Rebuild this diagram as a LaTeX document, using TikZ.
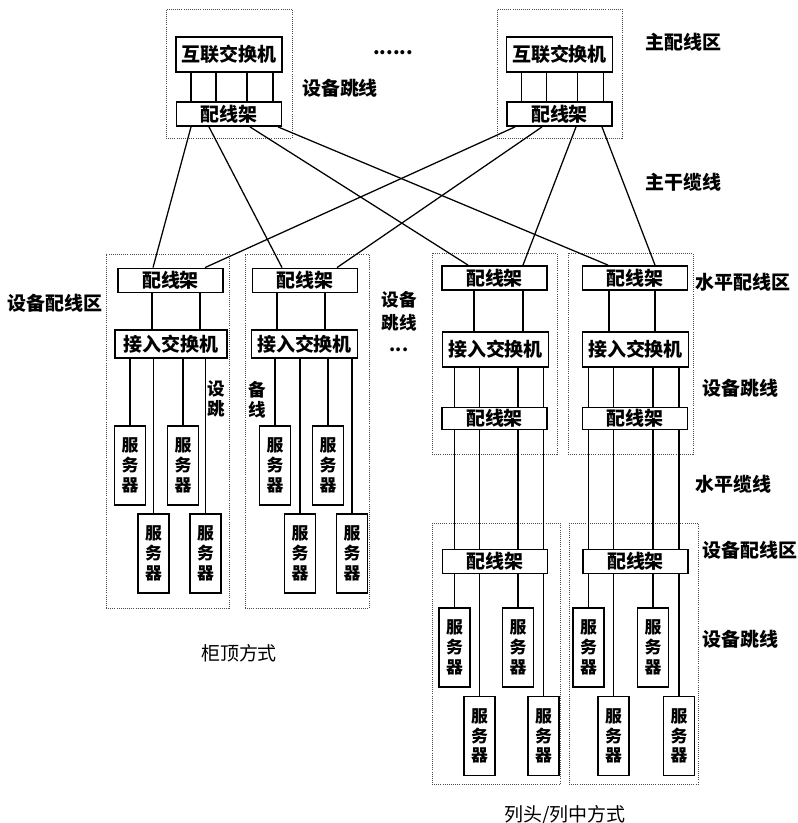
\documentclass[tikz,border=0pt]{standalone}
\usepackage{fontspec}
\usepackage{tikz}
\usetikzlibrary{calc}
\newfontfamily\cjk{Noto Sans CJK SC}

\begin{document}
\begin{tikzpicture}[x=0.025cm, y=-0.025cm,
  zone/.style={rectangle, draw=black!70, densely dotted, line width=0.5pt, inner sep=0pt},
  core/.style={rectangle, draw, line width=1.3pt, fill=white, inner sep=0pt,
               minimum width=2.65cm, minimum height=0.875cm,
               font=\cjk\bfseries\fontsize{13.5}{15}\selectfont},
  pp/.style={core, minimum width=2.625cm, minimum height=0.6cm},
  acc/.style={core, minimum width=2.65cm, minimum height=0.7cm},
  srv/.style={core, minimum width=0.775cm, minimum height=1.975cm, align=center,
              font=\cjk\bfseries\fontsize{12}{14}\selectfont},
  wire/.style={line width=0.9pt},
  lbl/.style={inner sep=0pt, font=\cjk\bfseries\fontsize{13.5}{15}\selectfont},
  captext/.style={inner sep=0pt, font=\cjk\fontsize{13.5}{15}\selectfont}
]
\useasboundingbox (0,0) rectangle (797,823);

%% Main distribution areas
\node[zone, minimum width=3.15cm, minimum height=3.225cm] at (229,73.5)   (mdaL) {};
\node[zone, minimum width=3.125cm, minimum height=3.225cm] at (559.5,73.5) (mdaR) {};
\node[core] at (229,54.5)   (coreL) {互联交换机};
\node[core] at (559.5,54.5) (coreR) {互联交换机};
\node[pp]   at (229,114)    (mppL)  {配线架};
\node[pp]   at (559.5,114)  (mppR)  {配线架};
\foreach \s in {L,R}
  \foreach \dx in {-38,-13,18,44}
    \draw[wire] ($(core\s.south)+(\dx,0)$) -- ($(mpp\s.north)+(\dx,0)$);

%% Cabinet-top zones
\node[zone, minimum width=3.075cm, minimum height=8.85cm] at (167.5,431) (zA) {};
\node[zone, minimum width=3.1cm, minimum height=8.85cm]   at (307,431)   (zB) {};
\node[pp]  at (170.5,280.5) (ppA) {配线架};
\node[pp]  at (305,280.5)   (ppB) {配线架};
\node[acc, minimum width=2.8cm] at (171,344) (swA) {接入交换机};
\node[acc] at (304.5,344)   (swB) {接入交换机};

%% Row-end zones
\node[zone, minimum width=3.125cm, minimum height=5.025cm] at (494.5,353.5) (zC) {};
\node[zone, minimum width=3.125cm, minimum height=5.025cm] at (630.5,353.5) (zD) {};
\node[pp]  at (494.5,278)   (ppC) {配线架};
\node[pp]  at (635,278)     (ppD) {配线架};
\node[acc, minimum height=0.875cm] at (495.5,349.5) (swC) {接入交换机};
\node[acc, minimum height=0.875cm] at (635.5,349.5) (swD) {接入交换机};
\node[pp, minimum height=0.55cm] at (494.5,418.5) (lpC) {配线架};
\node[pp, minimum height=0.55cm] at (635,418.5)   (lpD) {配线架};

\node[zone, minimum width=3.2cm, minimum height=6.525cm]   at (496,653.5)   (zE) {};
\node[zone, minimum width=3.225cm, minimum height=6.525cm] at (633.5,653.5) (zF) {};
\node[pp]  at (495,561.5)   (ppE) {配线架};
\node[pp]  at (635.5,561.5) (ppF) {配线架};

%% Servers
\foreach \n/\x/\y in {A1/130/465.5, A2/153.5/553.5, A3/183/465.5, A4/205.5/553.5,
                      B1/275/465.5, B2/300/553.5, B3/328/465.5, B4/352/553.5,
                      E1/454.5/647.5, E2/479.5/736, E3/518/647.5, E4/543.5/736,
                      F1/588.5/647.5, F2/613.5/736, F3/653/647.5, F4/679/736}
  \node[srv] at (\x,\y) (srv\n) {服\\务\\器};

%% Patch cords
\foreach \c/\xa/\xb in {A/152/200, B/277/325, C/474/523, D/609/655}
  \draw[wire] (pp\c.south -| \xa,0) -- (sw\c.north -| \xa,0)
              (pp\c.south -| \xb,0) -- (sw\c.north -| \xb,0);
\foreach \c in {A,B}
  \foreach \i in {1,...,4}
    \draw[wire] (srv\c\i.north) -- (srv\c\i.north |- sw\c.south);
\foreach \c/\r in {E/C, F/D}
  \foreach \i in {1,...,4}
    \draw[wire] (srv\c\i.north) -- (srv\c\i.north |- pp\c.south)
                (srv\c\i.north |- pp\c.north) -- (srv\c\i.north |- lp\r.south)
                (srv\c\i.north |- lp\r.north) -- (srv\c\i.north |- sw\r.south);

%% Backbone cables
\foreach \a/\b/\t in {-38/A/-17.5, -20/B/-23, 21/C/-26.5, 49/D/-27}
  \draw[wire] ($(mppL.south)+(\a,0)$) -- ($(pp\b.north)+(\t,0)$);
\foreach \a/\b/\t in {-44.5/A/34.5, -17.5/B/32, 16.5/C/28.5, 42.5/D/20}
  \draw[wire] ($(mppR.south)+(\a,0)$) -- ($(pp\b.north)+(\t,0)$);

%% Labels
\node[lbl] at (393,53) (dotsT) {......};
\node[lbl] at (340,88) (jmpT)  {设备跳线};
\node[lbl, anchor=west] at (645,42)  (mda)   {主配线区};
\node[lbl, anchor=west] at (645,182) (trunk) {主干缆线};
\node[lbl] at (55,303) (edaL) {设备配线区};
\node[lbl, align=center, font=\cjk\bfseries\fontsize{12.5}{14}\selectfont] at (216,399) (jmpA) {设\\跳};
\node[lbl, align=center, font=\cjk\bfseries\fontsize{12.5}{14}\selectfont] at (257,400) (jmpB) {备\\线};
\node[lbl, align=center, font=\cjk\bfseries\fontsize{12.5}{16}\selectfont] at (399,322) (jmpM) {设备\\跳线\\...};
\node[lbl, anchor=west] at (695,282) (hda)   {水平配线区};
\node[lbl, anchor=west] at (702,388) (jmpR)  {设备跳线};
\node[lbl, anchor=west] at (695,484) (hcab)  {水平缆线};
\node[lbl, anchor=west] at (702,550) (edaR)  {设备配线区};
\node[lbl, anchor=west] at (702,639) (jmpR2) {设备跳线};
\node[captext] at (239,653) (capTop) {柜顶方式};
\node[captext] at (565,815) (capRow) {列头/列中方式};
\end{tikzpicture}
\end{document}
